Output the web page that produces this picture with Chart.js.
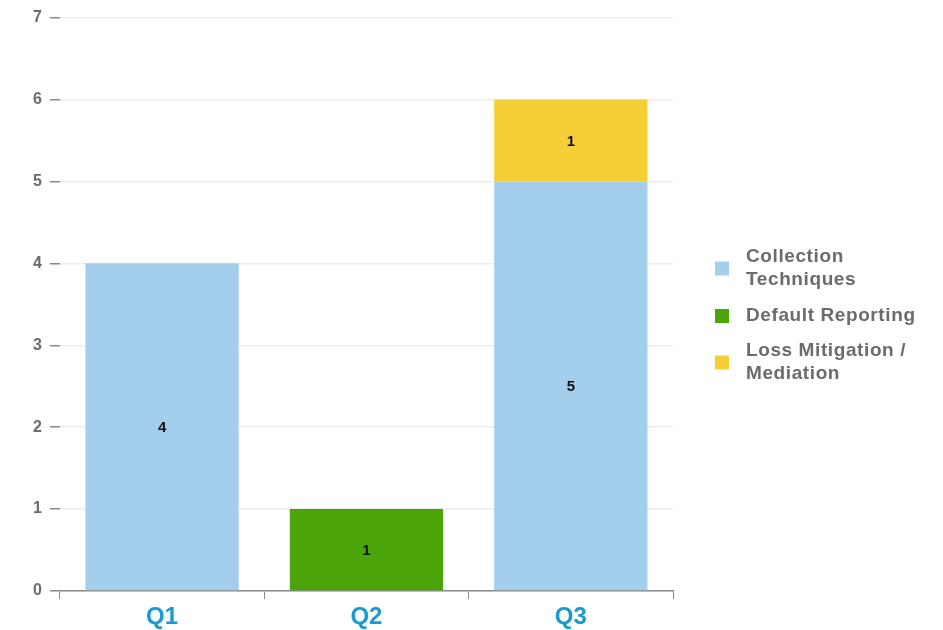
<!DOCTYPE html>
<html><head><meta charset="utf-8">
<script src="https://cdn.jsdelivr.net/npm/chart.js@4/dist/chart.umd.min.js"></script>
<style>html,body{margin:0;padding:0;background:#fff}#wrap{width:943px;height:630px;position:relative}</style>
</head><body><div id="wrap"><canvas id="c" width="943" height="630"></canvas></div>
<script>
const categories = ["Q1", "Q2", "Q3"];
const collectionTechniques = [4, null, 5];
const defaultReporting = [null, 1, null];
const lossMitigation = [null, null, 1];
const seriesNames = [["Collection", "Techniques"], ["Default Reporting"], ["Loss Mitigation /", "Mediation"]];
const seriesColors = ["#a3cfec", "#4ba50a", "#f5cf36"];
const yTicks = [0, 1, 2, 3, 4, 5, 6, 7];

const valueLabels = {
  id: 'valueLabels',
  afterDatasetsDraw(chart) {
    const ctx = chart.ctx;
    ctx.save();
    ctx.font = 'bold 15px "Liberation Sans", Arial, sans-serif';
    ctx.fillStyle = '#111';
    ctx.textAlign = 'center';
    ctx.textBaseline = 'middle';
    chart.data.datasets.forEach((ds, di) => {
      const meta = chart.getDatasetMeta(di);
      meta.data.forEach((bar, i) => {
        const v = ds.data[i];
        if (v == null || v === 0) return;
        const p = bar.getProps(['x', 'y', 'base'], true);
        ctx.fillText(String(v), p.x, (p.y + p.base) / 2 + 1);
      });
    });
    ctx.restore();
  }
};

const sideLegend = {
  id: 'sideLegend',
  afterDraw(chart) {
    const ctx = chart.ctx;
    ctx.save();
    ctx.font = 'bold 19px "Liberation Sans", Arial, sans-serif';
    try { ctx.letterSpacing = '0.6px'; } catch (e) {}
    ctx.textBaseline = 'middle';
    const boxX = 715, textX = 746, lineH = 23;
    const starts = [257, 316, 351];
    chart.data.datasets.forEach((ds, di) => {
      const lines = seriesNames[di];
      const top = starts[di];
      const mid = top + (lines.length - 1) * lineH / 2;
      ctx.fillStyle = ds.backgroundColor;
      ctx.fillRect(boxX, mid - 7, 14, 14);
      ctx.fillStyle = '#6b6b6b';
      lines.forEach((t, li) => ctx.fillText(t, textX, top + li * lineH));
    });
    ctx.restore();
  }
};

new Chart(document.getElementById('c'), {
  type: 'bar',
  data: {
    labels: categories,
    datasets: [
      { label: seriesNames[0].join(' '), data: collectionTechniques, backgroundColor: seriesColors[0] },
      { label: seriesNames[1].join(' '), data: defaultReporting, backgroundColor: seriesColors[1] },
      { label: seriesNames[2].join(' '), data: lossMitigation, backgroundColor: seriesColors[2] }
    ]
  },
  options: {
    responsive: false,
    animation: false,
    layout: { padding: { left: 25, right: 270, top: 9, bottom: -5 } },
    plugins: { legend: { display: false }, tooltip: { enabled: false } },
    datasets: { bar: { barPercentage: 0.75, categoryPercentage: 1.0 } },
    scales: {
      x: {
        stacked: true,
        grid: { drawOnChartArea: false, tickLength: 8, tickColor: '#8a8a8a', offset: true },
        border: { display: true, color: '#8a8a8a', width: 1.5 },
        ticks: { color: '#1a9ad0', font: { family: '"Liberation Sans", Arial, sans-serif', size: 24, weight: 'bold', lineHeight: 1.0 }, padding: 6 }
      },
      y: {
        stacked: true,
        min: 0, max: 7,
        afterBuildTicks(axis) { axis.ticks = yTicks.map(v => ({ value: v })); },
        grid: { color: '#ececec', lineWidth: 1.5, tickLength: 10, tickColor: '#8a8a8a' },
        border: { display: false },
        ticks: { color: '#6b6b6b', font: { family: '"Liberation Sans", Arial, sans-serif', size: 16, weight: 'bold' }, padding: 8 }
      }
    }
  },
  plugins: [valueLabels, sideLegend]
});
</script></body></html>
